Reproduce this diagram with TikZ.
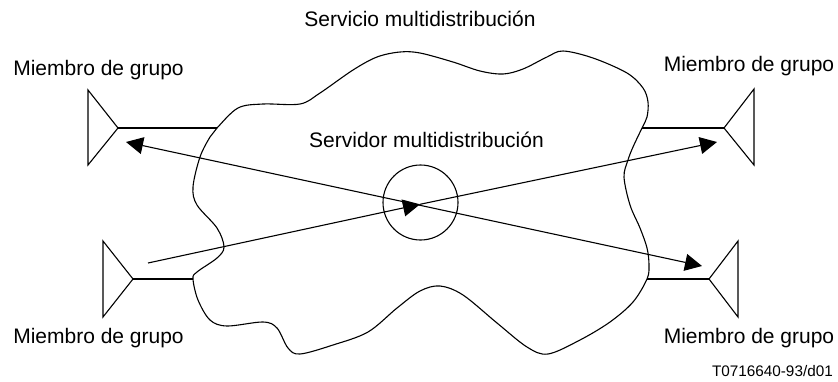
\documentclass[tikz,border=0pt]{standalone}
\usepackage{fontspec}
\setmainfont{Liberation Sans}
\usetikzlibrary{arrows.meta}
\tikzset{
  x=1pt,y=-1pt,
  thin line/.style={line width=1.1pt,black},
  thick line/.style={line width=2pt,black},
  tip/.style={-{Triangle[length=17pt,width=17pt]}},
  lbl/.style={font=\fontsize{21}{24}\selectfont,inner sep=0pt,anchor=base},
  member/.style={thin line,line join=miter}
}
\begin{document}
\begin{tikzpicture}
\useasboundingbox (0,0) rectangle (838,381);
% cloud
\draw[thin line,smooth cycle,tension=0.55] plot coordinates {
(217,128)(238,108)(263,104)(300,104)(320,93)(353,70)(377,57)(400,52)(420,53)(453,62)(480,71)(503,74)(523,69)(547,57)(563,51)(593,58)(627,73)(643,88)(648,102)(647,117)(642,128)(633,147)(628,160)(624,177)(630,205)(640,228)(647,248)(649,265)(647,279)(633,302)(610,322)(580,340)(548,354)(527,347)(497,323)(463,295)(440,286)(420,291)(397,308)(368,332)(333,345)(300,354)(288,348)(277,328)(263,322)(227,326)(210,320)(198,300)(193,279)(197,272)(217,258)(224,247)(217,228)(197,205)(193,187)(200,157)(210,137)};
% named points
\coordinate (tlA) at (118,128); \coordinate (tlC) at (217,128);
\coordinate (blA) at (133,279); \coordinate (blC) at (193,279);
\coordinate (trA) at (724,128); \coordinate (trC) at (642,128);
\coordinate (brA) at (709,279); \coordinate (brC) at (647,279);
\coordinate (s1) at (148,263); \coordinate (m1) at (420,204.3); \coordinate (e1) at (717,142);
\coordinate (e2a) at (126,142); \coordinate (e2b) at (702,266);
% members
\draw[member] (88,90) -- (tlA) -- (88,165) -- cycle;
\draw[member] (103,241) -- (blA) -- (103,317) -- cycle;
\draw[member] (754,89) -- (trA) -- (754,165) -- cycle;
\draw[member] (738,241) -- (brA) -- (738,317) -- cycle;
\draw[thick line] (tlA) -- (tlC);
\draw[thick line] (blA) -- (blC);
\draw[thick line] (trA) -- (trC);
\draw[thick line] (brA) -- (brC);
% server
\node[draw,thin line,circle,minimum size=75pt,inner sep=0pt] (server) at (420.5,202.5) {};
% arrows
\draw[thin line,tip] (s1) -- (m1);
\draw[thin line,tip] (m1) -- (e1);
\draw[thin line,{Triangle[length=17pt,width=17pt]}-{Triangle[length=17pt,width=17pt]}] (e2a) -- (e2b);
% labels
\node[lbl] (t0) at (420,26) {Servicio multidistribución};
\node[lbl] (t1) at (426.5,147) {Servidor multidistribución};
\node[lbl] (t2) at (98.5,75) {Miembro de grupo};
\node[lbl] (t3) at (749,71) {Miembro de grupo};
\node[lbl] (t4) at (98.5,343) {Miembro de grupo};
\node[lbl] (t5) at (749,343) {Miembro de grupo};
\node[font=\fontsize{15.3}{18}\selectfont,inner sep=0pt,anchor=base east] (t6) at (833,376) {T0716640-93/d01};
\end{tikzpicture}
\end{document}
